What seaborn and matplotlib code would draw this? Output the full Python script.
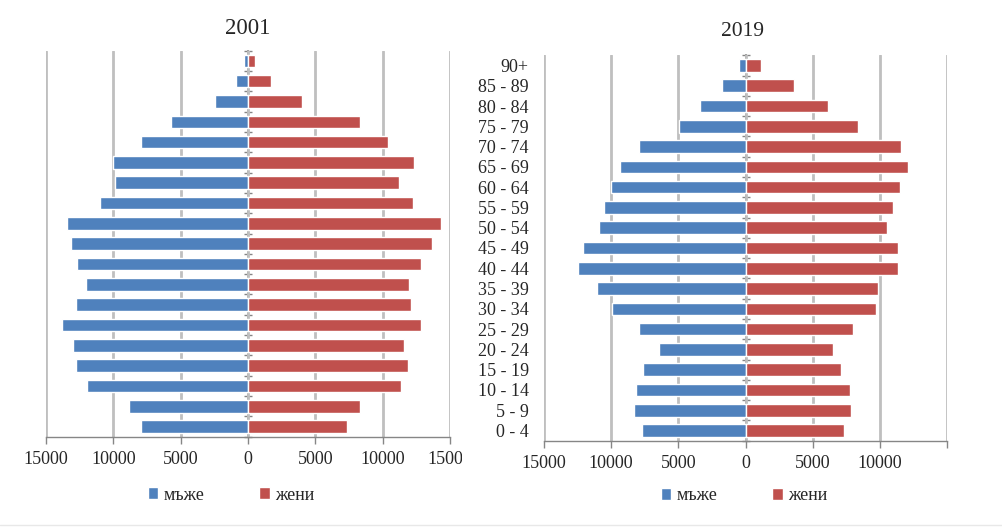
import numpy as np
import pandas as pd
import matplotlib
matplotlib.use("Agg")
from matplotlib import pyplot as plt
from matplotlib.patches import Rectangle
from matplotlib.lines import Line2D
import seaborn as sns

# age groups, bottom (0 - 4) to top (90+)
ages = ['0 - 4', '5 - 9', '10 - 14', '15 - 19', '20 - 24', '25 - 29', '30 - 34',
        '35 - 39', '40 - 44', '45 - 49', '50 - 54', '55 - 59', '60 - 64',
        '65 - 69', '70 - 74', '75 - 79', '80 - 84', '85 - 89', '90+']

male_2001 = [7960, 8850, 11980, 12800, 12970, 13790, 12800, 12050, 12720, 13120,
             13440, 10980, 9840, 10020, 7960, 5750, 2450, 920, 280]
female_2001 = [7340, 8330, 11360, 11860, 11610, 12850, 12100, 11930, 12850, 13670,
               14310, 12280, 11210, 12350, 10370, 8330, 4000, 1690, 550]

male_2019 = [7690, 8280, 8180, 7610, 6420, 7930, 9950, 11090, 12460, 12130,
             10920, 10520, 10040, 9330, 7930, 4970, 3380, 1760, 470]
female_2019 = [7340, 7810, 7740, 7090, 6470, 7990, 9680, 9850, 11300, 11300,
               10480, 10970, 11470, 12090, 11540, 8390, 6150, 3630, 1150]

sexes = ['мъже', 'жени']
tick_vals = [-15000, -10000, -5000, 0, 5000, 10000, 15000]
labels_2001 = ['15000', '10000', '5000', '0', '5000', '10000', '15000']
labels_2019 = ['15000', '10000', '5000', '0', '5000', '10000', '']

BLUE = '#4F81BD'
RED = '#C0504D'
GRID = '#BFBFBF'
AXIS = '#868686'

W, H = 1003, 527

sns.set_style("white")
plt.rcParams['font.family'] = ['Liberation Serif', 'DejaVu Serif']

fig = plt.figure(figsize=(W / 100, H / 100), dpi=100)


def pyramid_frame(male, female):
    return pd.DataFrame({
        'age': ages * 2,
        'value': [-v for v in male] + list(female),
        'sex': [sexes[0]] * len(ages) + [sexes[1]] * len(ages),
    })


def draw_panel(ax, male, female, xlabels, show_ages, legend_xy):
    df = pyramid_frame(male, female)
    sns.barplot(data=df, x='value', y='age', hue='sex', order=ages[::-1],
                hue_order=sexes, palette=[BLUE, RED], dodge=False, width=0.62,
                orient='h', saturation=1, errorbar=None, ax=ax)
    ax.set_xlim(-15000, 15000)
    ax.set_ylim(len(ages) - 0.5, -0.5)
    ax.set_xticks(tick_vals)
    ax.set_xticklabels(xlabels)
    ax.set_xlabel('')
    ax.set_ylabel('')
    ax.grid(axis='x', color=GRID, linewidth=2)
    ax.grid(axis='y', visible=False)
    ax.set_axisbelow(True)
    for s in ['top', 'right', 'left']:
        ax.spines[s].set_visible(False)
    ax.spines['bottom'].set_color(AXIS)
    ax.spines['bottom'].set_linewidth(1)
    ax.tick_params(axis='x', bottom=True, direction='out', length=5, width=1,
                   color=AXIS, labelsize=13, pad=5)
    ax.tick_params(axis='y', left=False, length=0, labelsize=13, pad=11)
    if not show_ages:
        ax.set_yticklabels([])

    # category axis through zero with small ticks between groups
    sec = ax.secondary_yaxis(0.5)
    sec.set_yticks(np.arange(-0.5, len(ages), 1))
    sec.tick_params(direction='inout', length=6, width=1, color=AXIS,
                    labelleft=False, labelright=False)
    for sp in sec.spines.values():
        sp.set_color(AXIS)
        sp.set_linewidth(1.2)

    handles, labels = ax.get_legend_handles_labels()
    ax.legend(handles, labels, loc='center', bbox_to_anchor=legend_xy,
              bbox_transform=fig.transFigure, ncol=2, frameon=False, fontsize=13,
              handlelength=0.6, handleheight=0.6, handletextpad=0.3,
              columnspacing=3.0)


ax1 = fig.add_axes([46 / W, (H - 436.7) / H, 404 / W, 386 / H])
draw_panel(ax1, male_2001, female_2001, labels_2001, False,
           (231 / W, 1 - 495 / H))

# white background of the second chart overlaps the first one
fig.add_artist(Rectangle((462 / W, 0), 1, 1, transform=fig.transFigure,
                         facecolor='white', edgecolor='none', zorder=1))

ax2 = fig.add_axes([544 / W, (H - 440.7) / H, 403.3 / W, 385.4 / H])
ax2.set_zorder(2)
draw_panel(ax2, male_2019, female_2019, labels_2019, True,
           (744 / W, 1 - 496 / H))

fig.text(248 / W, 1 - 28 / H, '2001', ha='center', va='center', fontsize=16.5,
         zorder=5)
fig.text(743 / W, 1 - 31 / H, '2019', ha='center', va='center', fontsize=15.5,
         zorder=5)

fig.add_artist(Line2D([0, 1], [2 / H, 2 / H], transform=fig.transFigure,
                      color='#E8E8E8', linewidth=1, zorder=5))

fig.savefig('out.png', dpi=100)
